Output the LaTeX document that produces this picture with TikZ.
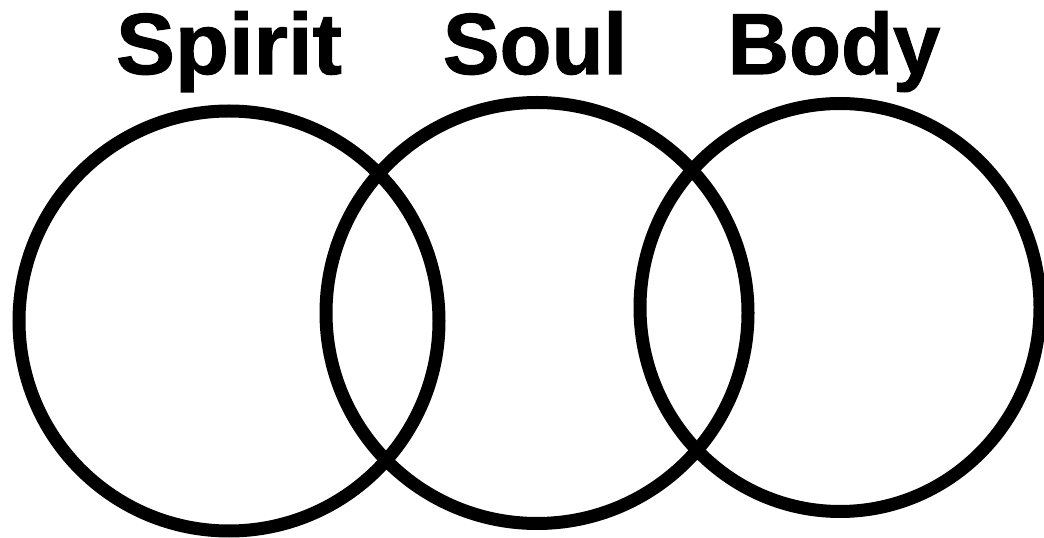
\documentclass[tikz,border=0pt]{standalone}
\usepackage{fontspec}
\setmainfont{Liberation Sans}[BoldFeatures={FakeBold=1.2}]
\usetikzlibrary{shapes.geometric}
\begin{document}
\begin{tikzpicture}[x=1pt,y=1pt,
  ring/.style={draw=black, line width=13pt, ellipse, inner sep=0pt},
  lbl/.style={anchor=base, inner sep=0pt, font=\fontsize{85}{90}\selectfont\bfseries}]
\useasboundingbox (0,0) rectangle (1044,538);
\fill[white] (0,0) rectangle (1044,538);
\node[ring, minimum width=420pt, minimum height=420pt] (spiritc) at (229,217) {};
\node[ring, minimum width=422pt, minimum height=421pt] (soulc) at (537,225) {};
\node[ring, minimum width=400pt, minimum height=408pt] (bodyc) at (840,230.5) {};
\node[lbl] (spirit) at (229,464) {\scalebox{1.04}[1.02]{Spirit}};
\node[lbl] (soul) at (535,464) {\scalebox{1}[1.02]{Soul}};
\node[lbl] (body) at (834,464) {\scalebox{1}[1.02]{Body}};
\end{tikzpicture}
\end{document}
